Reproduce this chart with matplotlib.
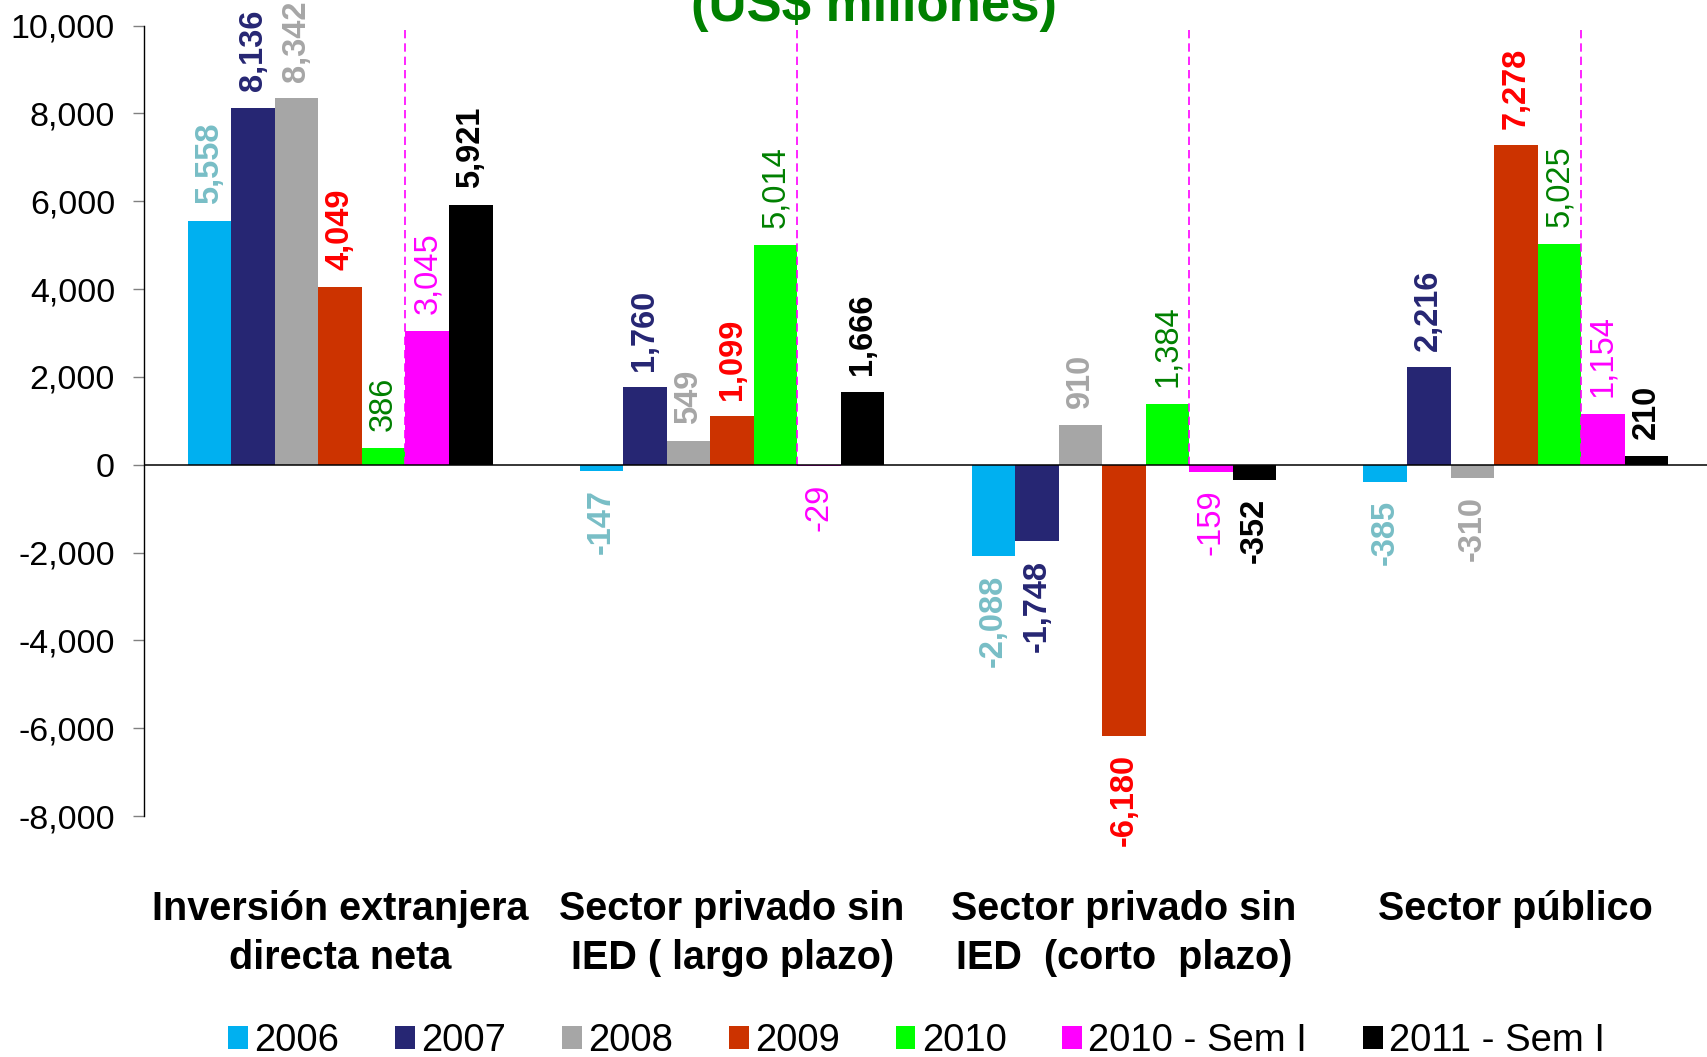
import numpy as np
import matplotlib
matplotlib.use("Agg")
import matplotlib.pyplot as plt

plt.rcParams['font.family'] = ['Liberation Sans', 'DejaVu Sans']

categories = ["Inversión extranjera\ndirecta neta",
              "Sector privado sin\nIED ( largo plazo)",
              "Sector privado sin\nIED  (corto  plazo)",
              "Sector público"]
series_names = ["2006", "2007", "2008", "2009", "2010", "2010 - Sem I", "2011 - Sem I"]
v2006 = [5558, -147, -2088, -385]
v2007 = [8136, 1760, -1748, 2216]
v2008 = [8342, 549, 910, -310]
v2009 = [4049, 1099, -6180, 7278]
v2010 = [386, 5014, 1384, 5025]
v2010_s1 = [3045, -29, -159, 1154]
v2011_s1 = [5921, 1666, -352, 210]
values = [v2006, v2007, v2008, v2009, v2010, v2010_s1, v2011_s1]

bar_colors = ["#00B0F0", "#262673", "#A6A6A6", "#CC3300", "#00FF00", "#FF00FF", "#000000"]
label_colors = ["#78BEC6", "#262673", "#A6A6A6", "#FF0000", "#008000", "#FF00FF", "#000000"]
label_weights = ["bold", "bold", "bold", "bold", "normal", "normal", "bold"]

fig = plt.figure(figsize=(17.07, 10.57), dpi=100)
ax = fig.add_axes([0.0845, 0.228, 0.9183, 0.7477])

x = np.arange(len(categories))
n = len(series_names)
w = (280 / 360) / n

for k, (name, vals) in enumerate(zip(series_names, values)):
    pos = x + (k - (n - 1) / 2) * w
    ax.bar(pos, vals, width=w, color=bar_colors[k], label=name, zorder=2)
    for xp, v in zip(pos, vals):
        off = 12 if v >= 0 else -13
        ax.annotate(f"{v:,}", (xp, v), xytext=(0, off), textcoords="offset points",
                    rotation=90, ha="center", va="bottom" if v >= 0 else "top",
                    fontsize=23.5, color=label_colors[k], fontweight=label_weights[k],
                    annotation_clip=False)

# separators between the annual and half-year bars
for xi in x:
    xs = xi + 1.5 * w
    ax.plot([xs, xs], [0, 10000], color="#FF00FF", lw=1.2,
            linestyle=(0, (5, 3)), zorder=3)

ax.axhline(0, color="black", lw=1.1, zorder=4)

ax.set_xlim(-0.5, 3.5)
ax.set_ylim(-8000, 10000)
ax.set_yticks(np.arange(-8000, 10001, 2000))
ax.yaxis.set_major_formatter(matplotlib.ticker.FuncFormatter(lambda v, p: f"{int(v):,}"))
ax.tick_params(axis="y", labelsize=24.5, length=8, width=1, color="#808080", pad=13)
ax.set_xticks(x)
ax.set_xticklabels(categories, fontsize=28.5, fontweight="bold", linespacing=1.34)
ax.tick_params(axis="x", length=0, pad=53.5)

for side in ["top", "right", "bottom"]:
    ax.spines[side].set_visible(False)
ax.spines["left"].set_linewidth(1)

fig.text(0.512, 1 - 21 / 1057, "(US$ millones)", ha="center", va="baseline",
         fontsize=38, fontweight="bold", color="#008000")

fig.legend(loc="lower center", bbox_to_anchor=(0.537, -0.002), ncol=7, frameon=False,
           fontsize=27.5, handlelength=0.52, handleheight=0.55, handletextpad=0.165,
           columnspacing=1.46, borderpad=0, borderaxespad=0)

fig.savefig("out.png", dpi=100)
